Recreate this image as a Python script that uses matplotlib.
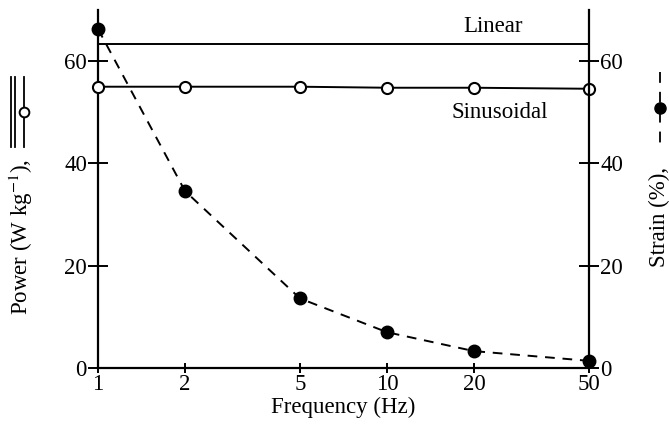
import matplotlib
matplotlib.use('Agg')
import matplotlib.pyplot as plt
from matplotlib.lines import Line2D

# data
freq = [1, 2, 5, 10, 20, 50]
power_sin = [55.0, 55.0, 55.0, 54.8, 54.8, 54.6]
power_lin = [63.3, 63.3, 63.3, 63.3, 63.3, 63.3]
strain = [66.3, 34.6, 13.6, 7.0, 3.3, 1.4]
xtick_vals = [1, 2, 5, 10, 20, 50]
xtick_labels = ['1', '2', '5', '10', '20', '50']
ytick_vals = [0, 20, 40, 60]

plt.rcParams['font.family'] = ['Liberation Serif', 'DejaVu Serif']
plt.rcParams['mathtext.fontset'] = 'stix'
FS = 16.5

W, H = 669, 426
fig = plt.figure(figsize=(W / 100, H / 100), dpi=100)
ax = fig.add_axes([98 / W, 1 - 368 / H, (589 - 98) / W, (368 - 10) / H])
ax2 = ax.twinx()

ax.set_xscale('log')
ax.set_xlim(1, 50)
ax.set_ylim(0, 70)
ax2.set_ylim(0, 70)

# power curves (left axis)
ax.plot(freq, power_lin, color='black', lw=1.4, clip_on=False)
ax.plot(freq, power_sin, color='black', lw=1.4, marker='o', ms=8,
        mfc='white', mec='black', mew=1.5, clip_on=False, zorder=5)
# strain (right axis)
ax2.plot(freq, strain, color='black', lw=1.4, ls=(0, (5, 4)), marker='o',
         ms=9, mfc='black', mec='black', clip_on=False, zorder=5)

for a in (ax, ax2):
    a.spines['top'].set_visible(False)
    for s in a.spines.values():
        s.set_linewidth(1.6)

ax.spines['right'].set_visible(False)
ax2.spines['left'].set_visible(False)
ax2.spines['bottom'].set_visible(False)

ax.set_xticks(xtick_vals)
ax.set_xticklabels(xtick_labels)
ax.xaxis.set_minor_locator(matplotlib.ticker.NullLocator())
ax.tick_params(axis='x', direction='inout', length=7, width=1.4, labelsize=FS, pad=1)
ax.set_yticks(ytick_vals)
ax.tick_params(axis='y', direction='inout', length=14, width=1.4, labelsize=FS, pad=1)
ax2.set_yticks(ytick_vals)
ax2.tick_params(axis='y', direction='inout', length=14, width=1.4, labelsize=FS, pad=1)

ax.set_xlabel('Frequency (Hz)', fontsize=FS, labelpad=1)

ax.text(23.3, 66.7, 'Linear', fontsize=FS, ha='center', va='center')
ax.text(24.6, 50.0, 'Sinusoidal', fontsize=FS, ha='center', va='center')

tf = fig.transFigure
# left axis label with line key
fig.text(21 / W, 1 - 237 / H, 'Power (W kg$^{-1}$),', rotation=90,
         fontsize=FS, ha='center', va='center')
for xp in (11, 15, 24):
    fig.add_artist(Line2D([xp / W, xp / W], [1 - 77 / H, 1 - 147 / H],
                          color='black', lw=1.3, transform=tf))
fig.add_artist(Line2D([24 / W], [1 - 112 / H], marker='o', ms=7,
                      mfc='white', mec='black', mew=1.4, lw=0, transform=tf))

# right axis label with line key
fig.text(659 / W, 1 - 217 / H, 'Strain (%),', rotation=90,
         fontsize=FS, ha='center', va='center')
fig.add_artist(Line2D([660 / W, 660 / W], [1 - 72 / H, 1 - 147 / H],
                      color='black', lw=1.3, ls=(0, (6, 5)), transform=tf))
fig.add_artist(Line2D([660 / W], [1 - 108 / H], marker='o', ms=8,
                      mfc='black', mec='black', lw=0, transform=tf))

fig.savefig('out.png', dpi=100)
